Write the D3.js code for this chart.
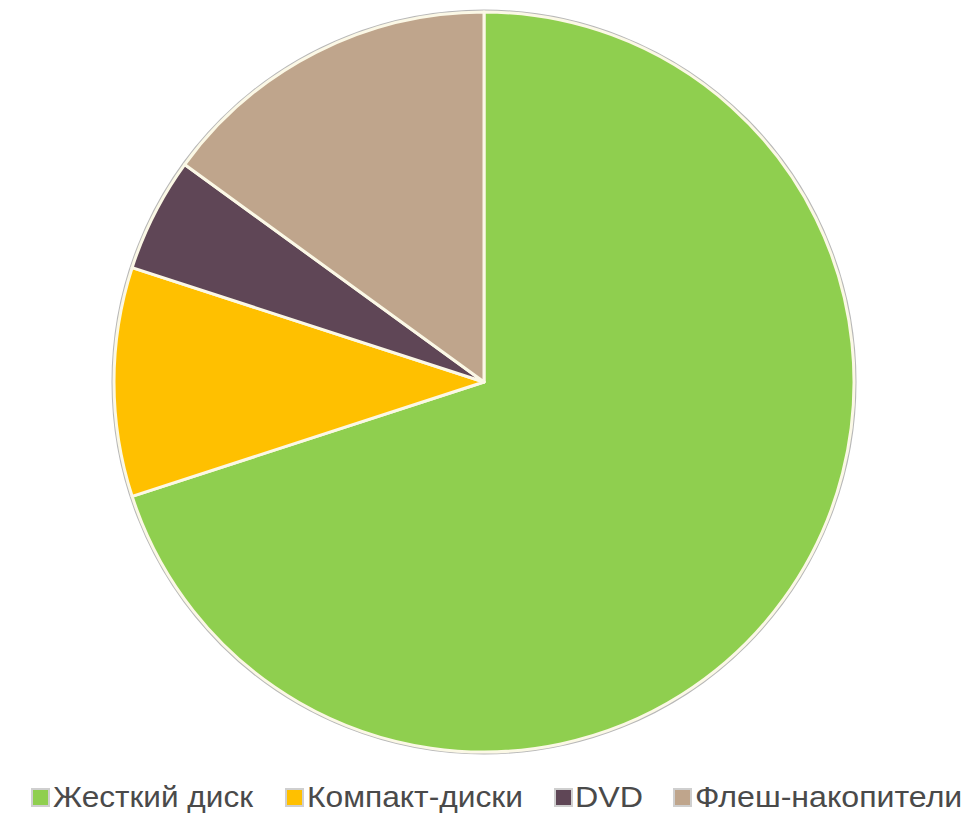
<!DOCTYPE html>
<html><head><meta charset="utf-8">
<script src="https://cdn.jsdelivr.net/npm/d3@7"></script>
<style>html,body{margin:0;padding:0;background:#fff;overflow:hidden}</style>
</head><body>
<svg id="c" width="962" height="815"></svg>
<script>
const categories = ["Жесткий диск", "Компакт-диски", "DVD", "Флеш-накопители"];
const values = [70, 10, 5, 15];
const colors = ["#8fcf4f", "#ffc000", "#5f4656", "#bfa58c"];

const svg = d3.select("#c");
const cx = 484, cy = 382, R = 370;
const g = svg.append("g").attr("transform", `translate(${cx},${cy})`);
const pie = d3.pie().sort(null).value(d => d)(values);
const arc = d3.arc().innerRadius(0).outerRadius(R);
g.append("circle").attr("r", R + 1.5).attr("fill", "none").attr("stroke", "#b8b8b8").attr("stroke-width", 2);
g.selectAll("path").data(pie).join("path")
  .attr("d", arc)
  .attr("fill", (d, i) => colors[i])
  .attr("stroke", "#fbf8e6").attr("stroke-width", 3).attr("stroke-linejoin", "round");

const legSq = [32, 286, 555, 674];
const legTextX = [53, 307, 575, 695];
const legTextW = [200, 216, 68, null];
const lg = svg.append("g").attr("font-family", "Liberation Sans, Arial, sans-serif").attr("font-size", 30).attr("fill", "#4a4a4a");
categories.forEach((c, i) => {
  lg.append("rect").attr("x", legSq[i]).attr("y", 789).attr("width", 17).attr("height", 17)
    .attr("fill", colors[i]).attr("stroke", "#cfcfcf").attr("stroke-width", 2);
  const t = lg.append("text").attr("x", legTextX[i]).attr("y", 807).text(c);
  const w = legTextW[i] || t.node().getComputedTextLength() * 1.07;
  t.attr("textLength", w).attr("lengthAdjust", "spacingAndGlyphs");
});
</script>
</body></html>
